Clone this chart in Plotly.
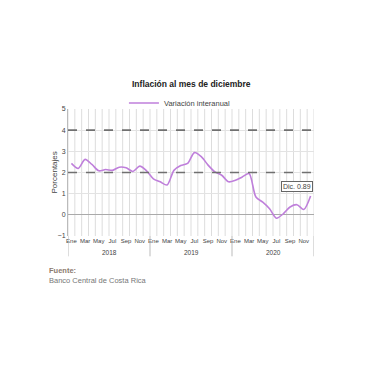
import plotly.graph_objects as go

months = ["Ene", "Feb", "Mar", "Abr", "May", "Jun", "Jul", "Ago", "Sep", "Oct", "Nov", "Dic"]
years = ["2018", "2019", "2020"]
values_2018 = [2.43, 2.19, 2.62, 2.38, 2.08, 2.14, 2.10, 2.25, 2.22, 2.05, 2.30, 2.08]
values_2019 = [1.70, 1.56, 1.41, 2.10, 2.33, 2.43, 2.94, 2.75, 2.35, 2.03, 1.87, 1.56]
values_2020 = [1.63, 1.79, 1.95, 0.84, 0.60, 0.29, -0.16, 0.05, 0.37, 0.48, 0.25, 0.89]
reference_levels = [2, 4]
series_name = "Variación interanual"
label_text = "Dic. 0.89"
y_title = "Porcentajes"

values = values_2018 + values_2019 + values_2020
n = len(values)
x = list(range(n))
tickvals = [i for i in x if i % 2 == 0]
ticktext = [months[i % 12] for i in tickvals]

line_color = "#BF7FDB"
fig = go.Figure()
fig.add_trace(go.Scatter(x=x, y=values, mode="lines", name=series_name,
                         line=dict(color=line_color, width=1.6, shape="spline", smoothing=0.8)))

shapes = []
for i in range(n + 1):
    shapes.append(dict(type="line", xref="x", yref="paper", x0=i - 0.5, x1=i - 0.5, y0=0, y1=1,
                       line=dict(color="#DDDDDD", width=1), layer="below"))
for lv in reference_levels:
    shapes.append(dict(type="line", xref="paper", yref="y", x0=0, x1=1, y0=lv, y1=lv,
                       line=dict(color="#707070", width=1.6, dash="dash")))
for k in range(len(years) + 1):
    xv = k * 12 - 0.5
    shapes.append(dict(type="line", xref="x", yref="paper", x0=xv, x1=xv, y0=0, y1=-0.16,
                       line=dict(color="#BBBBBB", width=1)))

annotations = []
for k, yr in enumerate(years):
    annotations.append(dict(x=k * 12 + 5.5, y=-0.126, xref="x", yref="paper", text=yr, showarrow=False,
                            font=dict(size=6.5, color="#444"), yanchor="middle"))
annotations.append(dict(x=0.5, y=1.197, xref="paper", yref="paper", text="<b>Inflación al mes de diciembre</b>",
                        showarrow=False, font=dict(size=8.5, color="#222"), yanchor="middle"))
annotations.append(dict(x=-0.053, y=0.5, xref="paper", yref="paper", text=y_title, textangle=-90,
                        showarrow=False, font=dict(size=8, color="#444"), xanchor="center", yanchor="middle"))
annotations.append(dict(x=-0.085, y=-0.268, xref="paper", yref="paper", text="<b>Fuente:</b>",
                        showarrow=False, font=dict(size=7.5, color="#8C7B6E"), xanchor="left", yanchor="middle"))
annotations.append(dict(x=-0.085, y=-0.354, xref="paper", yref="paper", text="Banco Central de Costa Rica",
                        showarrow=False, font=dict(size=7.5, color="#777"), xanchor="left", yanchor="middle"))
annotations.append(dict(x=x[-1], y=values[-1], xref="x", yref="y", text=label_text, showarrow=False,
                        xshift=-14, yshift=10, font=dict(size=7, color="#444"),
                        bordercolor="#666", borderwidth=1, borderpad=1, bgcolor="white"))

fig.update_layout(
    width=380, height=380,
    margin=dict(l=60, r=74, t=101, b=152, autoexpand=False),
    paper_bgcolor="white", plot_bgcolor="white",
    font=dict(family="Liberation Sans", size=7, color="#333"),
    showlegend=True,
    legend=dict(orientation="h", x=0.455, xanchor="center", y=1.047, yanchor="middle",
                font=dict(size=7.5, color="#444"), bgcolor="rgba(0,0,0,0)"),
    shapes=shapes, annotations=annotations,
    xaxis=dict(range=[-0.5, n - 0.5], tickvals=tickvals, ticktext=ticktext, showgrid=False,
               zeroline=False, showline=False, ticks="", tickangle=0, automargin=False,
               tickfont=dict(size=6, color="#444")),
    yaxis=dict(range=[-1, 5], dtick=1, showgrid=True, gridcolor="#E3E3E3", zeroline=True,
               zerolinecolor="#AAAAAA", zerolinewidth=1, showline=True, linecolor="#BBBBBB",
               ticks="", automargin=False, tickfont=dict(size=7, color="#444")),
)
fig.write_html("out.html")
